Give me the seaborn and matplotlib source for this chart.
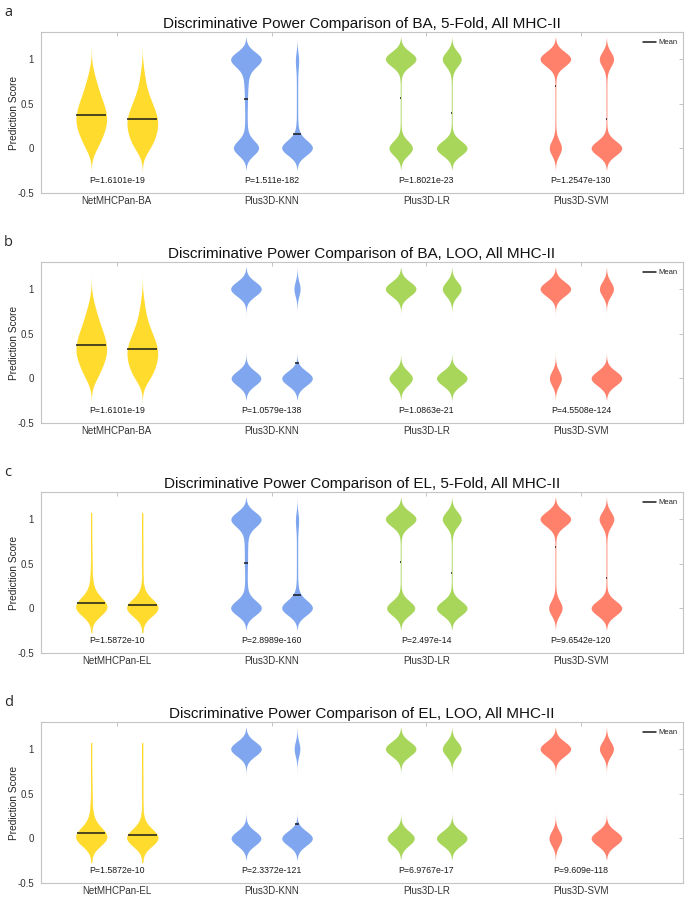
import numpy as np
import pandas as pd
import seaborn as sns
import matplotlib.pyplot as plt

# score bins (0..1) and how many samples fall in each bin
SCORE_GRID = [0.0, 0.1, 0.2, 0.3, 0.4, 0.5, 0.6, 0.7, 0.8, 0.9, 1.0]

NETMHC_BA_POS = [5, 8, 11, 13, 12, 10, 7, 5, 3, 1, 0]
NETMHC_BA_NEG = [7, 10, 12, 13, 11, 8, 5, 3, 2, 1, 0]
NETMHC_EL_POS = [100, 30, 7, 4, 2, 2, 1, 1, 1, 0, 0]
NETMHC_EL_NEG = [130, 18, 4, 2, 1, 1, 1, 1, 1, 0, 0]

# a: BA, 5-Fold
A_KNN_POS = [62, 6, 4, 3, 3, 4, 4, 5, 7, 10, 74]
A_KNN_NEG = [85, 10, 4, 2, 2, 2, 2, 2, 2, 3, 8]
A_LR_POS = [55, 2, 1, 1, 1, 1, 1, 1, 1, 2, 72]
A_LR_NEG = [70, 2, 1, 1, 1, 1, 1, 1, 1, 2, 43]
A_SVM_POS = [28, 2, 1, 1, 1, 1, 1, 1, 1, 2, 72]
A_SVM_NEG = [72, 2, 1, 1, 1, 1, 1, 1, 1, 2, 33]
# b: BA, LOO
B_KNN_POS = [70, 0, 0, 0, 0, 0, 0, 0, 0, 0, 72]
B_KNN_NEG = [70, 0, 0, 0, 0, 0, 0, 0, 0, 0, 14]
B_LR_POS = [55, 0, 0, 0, 0, 0, 0, 0, 0, 0, 72]
B_LR_NEG = [70, 0, 0, 0, 0, 0, 0, 0, 0, 0, 43]
B_SVM_POS = [28, 0, 0, 0, 0, 0, 0, 0, 0, 0, 72]
B_SVM_NEG = [72, 0, 0, 0, 0, 0, 0, 0, 0, 0, 33]
# c: EL, 5-Fold
C_KNN_POS = [72, 6, 4, 3, 3, 4, 4, 4, 5, 8, 70]
C_KNN_NEG = [88, 10, 4, 2, 2, 2, 2, 2, 2, 3, 8]
C_LR_POS = [66, 2, 1, 1, 1, 1, 1, 1, 1, 2, 72]
C_LR_NEG = [70, 2, 1, 1, 1, 1, 1, 1, 1, 2, 43]
C_SVM_POS = [31, 2, 1, 1, 1, 1, 1, 1, 1, 2, 72]
C_SVM_NEG = [72, 2, 1, 1, 1, 1, 1, 1, 1, 2, 34]
# d: EL, LOO
D_KNN_POS = [70, 0, 0, 0, 0, 0, 0, 0, 0, 0, 72]
D_KNN_NEG = [70, 0, 0, 0, 0, 0, 0, 0, 0, 0, 13]
D_LR_POS = [64, 0, 0, 0, 0, 0, 0, 0, 0, 0, 72]
D_LR_NEG = [70, 0, 0, 0, 0, 0, 0, 0, 0, 0, 43]
D_SVM_POS = [30, 0, 0, 0, 0, 0, 0, 0, 0, 0, 72]
D_SVM_NEG = [72, 0, 0, 0, 0, 0, 0, 0, 0, 0, 33]

PANEL_LETTERS = ["a", "b", "c", "d"]
TITLES = ["Discriminative Power Comparison of BA, 5-Fold, All MHC-II",
          "Discriminative Power Comparison of BA, LOO, All MHC-II",
          "Discriminative Power Comparison of EL, 5-Fold, All MHC-II",
          "Discriminative Power Comparison of EL, LOO, All MHC-II"]
MODELS_BA = ["NetMHCPan-BA", "Plus3D-KNN", "Plus3D-LR", "Plus3D-SVM"]
MODELS_EL = ["NetMHCPan-EL", "Plus3D-KNN", "Plus3D-LR", "Plus3D-SVM"]
P_A = ["P=1.6101e-19", "P=1.511e-182", "P=1.8021e-23", "P=1.2547e-130"]
P_B = ["P=1.6101e-19", "P=1.0579e-138", "P=1.0863e-21", "P=4.5508e-124"]
P_C = ["P=1.5872e-10", "P=2.8989e-160", "P=2.497e-14", "P=9.6542e-120"]
P_D = ["P=1.5872e-10", "P=2.3372e-121", "P=6.9767e-17", "P=9.609e-118"]

panels = [
    (MODELS_BA, P_A, [(NETMHC_BA_POS, NETMHC_BA_NEG), (A_KNN_POS, A_KNN_NEG), (A_LR_POS, A_LR_NEG), (A_SVM_POS, A_SVM_NEG)]),
    (MODELS_BA, P_B, [(NETMHC_BA_POS, NETMHC_BA_NEG), (B_KNN_POS, B_KNN_NEG), (B_LR_POS, B_LR_NEG), (B_SVM_POS, B_SVM_NEG)]),
    (MODELS_EL, P_C, [(NETMHC_EL_POS, NETMHC_EL_NEG), (C_KNN_POS, C_KNN_NEG), (C_LR_POS, C_LR_NEG), (C_SVM_POS, C_SVM_NEG)]),
    (MODELS_EL, P_D, [(NETMHC_EL_POS, NETMHC_EL_NEG), (D_KNN_POS, D_KNN_NEG), (D_LR_POS, D_LR_NEG), (D_SVM_POS, D_SVM_NEG)]),
]

COLORS = ["#FFDB2E", "#7FA6EE", "#A8D65A", "#FF806B"]
BANDWIDTH = [0.09, 0.08, 0.08, 0.08]   # absolute kde bandwidth per model
EDGE_LW = {"NetMHCPan-EL": 0.5}         # thin outline so the long EL tails show
AX_GREY = "#C4C4C4"


def fixed_bw(bw):
    # scipy wants a factor relative to the data std
    return lambda kde: bw / np.std(kde.dataset, ddof=1)


sns.set_theme(style="white")
plt.rcParams['font.family'] = ['Liberation Sans', 'DejaVu Sans']

fig = plt.figure(figsize=(6.85, 8.98), dpi=100)
W, H = 685, 898
tops = [32, 262, 492, 722]

for k, (models, pvals, counts) in enumerate(panels):
    ax = fig.add_axes([41 / W, 1 - (tops[k] + 161) / H, 642 / W, 161 / H])

    rows = []
    for model, (pos, neg) in zip(models, counts):
        for lab, c in (("pos", pos), ("neg", neg)):
            for s in np.repeat(SCORE_GRID, c):
                rows.append((model, lab, s))
    df = pd.DataFrame(rows, columns=["model", "label", "score"])

    for gi, model in enumerate(models):
        sub = df[df["model"] == model]
        n0 = len(ax.collections)
        sns.violinplot(data=sub, x="model", y="score", hue="label", order=models,
                       hue_order=["pos", "neg"], palette=[COLORS[gi]] * 2, saturation=1,
                       width=0.66, gap=0.4, density_norm="width", inner=None, cut=3,
                       bw_method=fixed_bw(BANDWIDTH[gi]), linewidth=EDGE_LW.get(model, 0),
                       linecolor=COLORS[gi], legend=False, ax=ax)
        # mean line across the violin body
        for coll in ax.collections[n0:]:
            v = coll.get_paths()[0].vertices
            cx = (v[:, 0].min() + v[:, 0].max()) / 2
            lab = "pos" if cx < gi else "neg"
            m = sub.loc[sub["label"] == lab, "score"].mean()
            right = v[v[:, 0] >= cx]
            right = right[np.argsort(right[:, 1])]
            hw = np.interp(m, right[:, 1], right[:, 0]) - cx
            ax.plot([cx - hw, cx + hw], [m, m], color="k", lw=1.1, solid_capstyle="butt")
        ax.text(gi, -0.36, pvals[gi], ha="center", va="center", fontsize=6.3, color="#1a1a1a")

    ax.plot([], [], color="k", lw=1.1, label="Mean")
    ax.legend(loc="upper right", bbox_to_anchor=(0.9945, 0.966), frameon=False,
              fontsize=5.5, handlelength=1.7, handletextpad=0.35,
              borderaxespad=0, borderpad=0.2)

    ax.set_xlim(-0.49, 3.66)
    ax.set_ylim(-0.5, 1.3)
    ax.set_xticks(range(4))
    ax.set_xticklabels(models)
    ax.set_yticks([-0.5, 0, 0.5, 1])
    ax.set_yticklabels(["-0.5", "0", "0.5", "1"])
    ax.set_xlabel("")
    ax.set_ylabel("Prediction Score", fontsize=7.3, color="#262626", labelpad=-1)
    ax.tick_params(direction="in", top=True, right=True, length=3, width=0.7,
                   color=AX_GREY, labelsize=7, labelcolor="#333333")
    ax.tick_params(axis="y", pad=5)
    ax.tick_params(axis="x", pad=2)
    for sp in ax.spines.values():
        sp.set_visible(True)
        sp.set_color(AX_GREY)
        sp.set_linewidth(0.8)
    ax.set_title(TITLES[k], fontsize=11, pad=3, color="#111111")
    fig.text(4 / W, 1 - (tops[k] - 19.5) / H, PANEL_LETTERS[k], fontsize=10.5,
             va="center", ha="left", family=["Open Sans", "DejaVu Sans"])

fig.savefig("out.png", dpi=100)
